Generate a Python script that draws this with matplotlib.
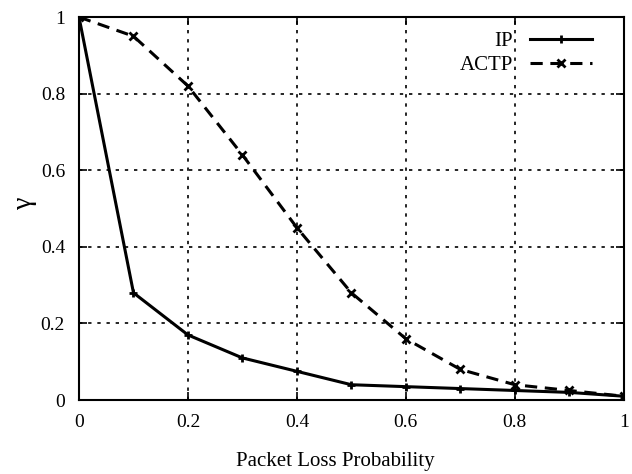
import matplotlib
matplotlib.use('Agg')
import matplotlib.pyplot as plt

plt.rcParams['font.family'] = ['Liberation Serif', 'DejaVu Serif']

loss_prob = [0.0, 0.1, 0.2, 0.3, 0.4, 0.5, 0.6, 0.7, 0.8, 0.9, 1.0]
gamma_ip = [1.0, 0.28, 0.17, 0.11, 0.075, 0.04, 0.035, 0.03, 0.025, 0.02, 0.01]
gamma_actp = [1.0, 0.95, 0.82, 0.64, 0.45, 0.28, 0.16, 0.08, 0.04, 0.025, 0.01]

x_ticks = [0, 0.2, 0.4, 0.6, 0.8, 1]
x_labels = ['0', '0.2', '0.4', '0.6', '0.8', '1']
y_ticks = [0, 0.2, 0.4, 0.6, 0.8, 1]
y_labels = ['0', '0.2', '0.4', '0.6', '0.8', '1']

fig = plt.figure(figsize=(6.32, 4.74), dpi=100)
ax = fig.add_axes([0.125, 0.156, 0.862, 0.808])

ax.plot(loss_prob, gamma_ip, color='black', linestyle='-', linewidth=2.2,
        marker='+', markersize=6, markeredgewidth=2, label='IP')
ax.plot(loss_prob, gamma_actp, color='black', linestyle=(0, (4, 2.5)), linewidth=2.2,
        marker='x', markersize=6, markeredgewidth=2, label='ACTP')

ax.set_xlim(0, 1)
ax.set_ylim(0, 1)
ax.set_xticks(x_ticks)
ax.set_xticklabels(x_labels)
ax.set_yticks(y_ticks)
ax.set_yticklabels(y_labels)
ax.tick_params(direction='in', length=6, width=1.2, top=True, right=True,
               labelsize=14, pad=10)
ax.grid(True, color='black', linestyle=(0, (2, 3.5)), linewidth=1.2)
for s in ax.spines.values():
    s.set_linewidth(1.5)

ax.set_xlabel('Packet Loss Probability', fontsize=15)
ax.xaxis.set_label_coords(0.47, -0.135)
ax.set_ylabel('γ', fontsize=20, va='center')
ax.yaxis.set_label_coords(-0.1, 0.515)

leg = ax.legend(loc='upper right', bbox_to_anchor=(0.969, 1.0), frameon=False,
                fontsize=15, markerfirst=False, handlelength=3.0, handletextpad=0.8,
                borderaxespad=0.3, labelspacing=0.2)

fig.savefig('out.png', dpi=100)
